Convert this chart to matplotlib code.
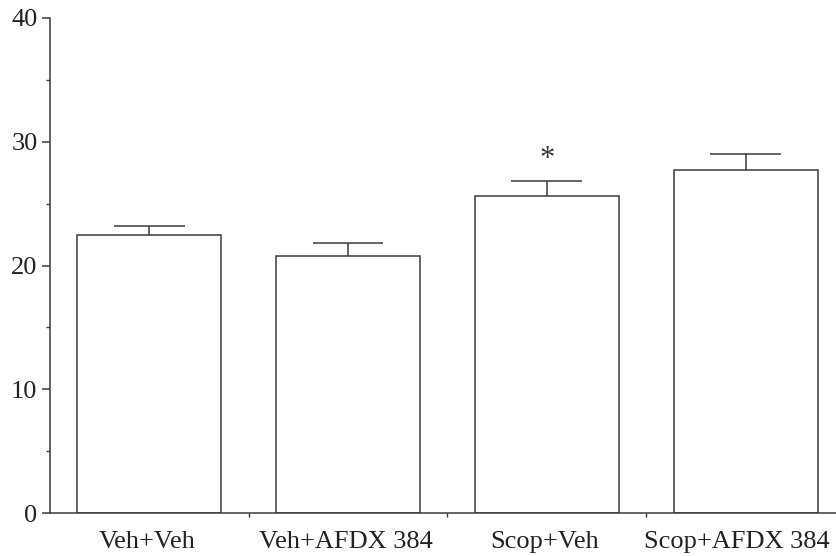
import numpy as np
import matplotlib.pyplot as plt
import matplotlib.transforms as mtransforms
from matplotlib.ticker import MultipleLocator, FixedLocator

groups = ['Veh+Veh', 'Veh+AFDX 384', 'Scop+Veh', 'Scop+AFDX 384']
means = [22.5, 20.8, 25.6, 27.7]
sem = [0.7, 1.0, 1.2, 1.3]
marks = ['', '', '*', '']

plt.rcParams['font.family'] = ['Liberation Serif', 'DejaVu Serif']
ink = '#3a3a3a'

fig = plt.figure(figsize=(8.37, 5.56), dpi=100)
ax = fig.add_axes([50 / 837, 1 - 513 / 556, 1 - 50 / 837, 495 / 556])

x = np.arange(len(groups))
top = np.array(means) + np.array(sem)
ax.bar(x, means, width=0.725, color='white', edgecolor=ink, linewidth=1.1, zorder=2)
# upper error bars only: stem plus cap
ax.vlines(x, means, top, color=ink, linewidth=1.1, zorder=3)
ax.hlines(top, x - 0.178, x + 0.178, color=ink, linewidth=1.1, zorder=3)

for xi, t_, t in zip(x, top, marks):
    if t:
        ax.text(xi, t_ + 0.6, t, ha='center', va='bottom', fontsize=22, color=ink)

ax.set_xlim(-0.5, 3.46)
ax.set_ylim(0, 40)
ax.yaxis.set_major_locator(MultipleLocator(10))
ax.yaxis.set_minor_locator(MultipleLocator(5))
ax.set_xticks([])
ax.xaxis.set_minor_locator(FixedLocator([0.5, 1.5, 2.5]))

# category labels under the axis; the last one is pulled in from the edge
for i, g in enumerate(groups):
    dx = -9 if i == len(groups) - 1 else -2
    tr = mtransforms.offset_copy(ax.get_xaxis_transform(), fig=fig,
                                 x=dx, y=-18, units='dots')
    ax.text(x[i], 0, g, transform=tr, ha='center', va='top',
            fontsize=19, color='#222222', clip_on=False)

for side in ['top', 'right']:
    ax.spines[side].set_visible(False)
for side in ['left', 'bottom']:
    ax.spines[side].set_color(ink)
    ax.spines[side].set_linewidth(1.1)

ax.tick_params(axis='y', which='major', length=6, width=1.1, color=ink,
               labelsize=19, pad=3, labelcolor='#222222')
ax.tick_params(axis='y', which='minor', length=3, width=1.0, color=ink)
ax.tick_params(axis='x', which='minor', length=3, width=1.0, color=ink)

fig.savefig('out.png', dpi=100)
